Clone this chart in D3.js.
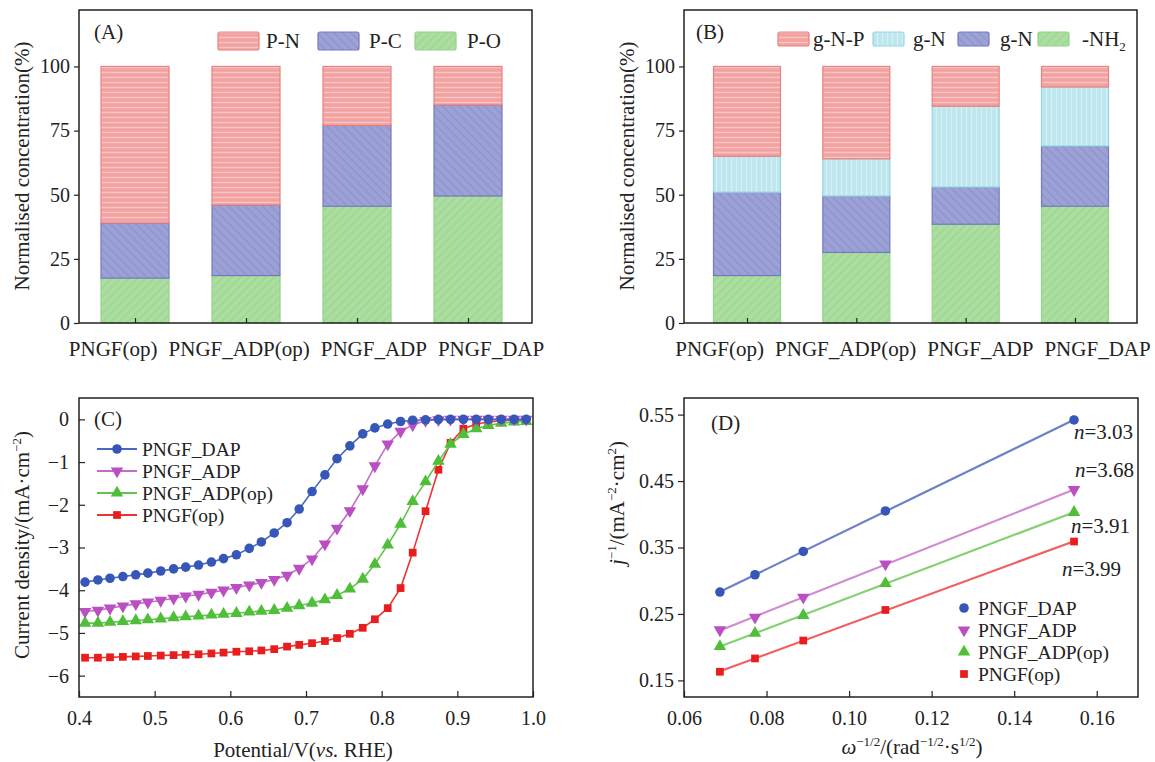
<!DOCTYPE html>
<html>
<head>
<meta charset="utf-8">
<title>PNGF species and ORR</title>
<script src="https://d3js.org/d3.v7.min.js"></script>
<style>
  body { margin: 0; background: #fff; }
  svg { font-family: "Liberation Serif", "Times New Roman", serif; fill: #222; }
  .axis text { font-size: 20px; fill: #222; font-family: "Liberation Serif", serif; }
  .axis line { stroke: #222; stroke-width: 1.2px; }
  .frame { fill: none; stroke: #222; stroke-width: 1.5px; }
  .lbl { font-size: 21px; fill: #222; }
  .leg { font-size: 19.5px; fill: #222; }
</style>
</head>
<body>
<script>
var samples = ["PNGF(op)", "PNGF_ADP(op)", "PNGF_ADP", "PNGF_DAP"];

// (A) P species, %
var pO = [17.5, 18.5, 45.5, 49.5];
var pC = [21.5, 27.5, 31.5, 35.5];
var pN = [61, 54, 23, 15];

// (B) N species, %
var nh2 = [18.5, 27.5, 38.5, 45.5];
var gNblue = [32.5, 22, 14.5, 23.5];
var gNcyan = [14, 14.5, 31.5, 23];
var gNP = [35, 36, 15.5, 8];

// (C) LSV curves
var potential = [0.408, 0.425, 0.441, 0.458, 0.475, 0.491, 0.508, 0.525, 0.541, 0.558, 0.575, 0.591,
  0.608, 0.625, 0.641, 0.658, 0.675, 0.691, 0.708, 0.725, 0.741, 0.758, 0.775, 0.791,
  0.808, 0.825, 0.841, 0.858, 0.875, 0.891, 0.908, 0.925, 0.941, 0.958, 0.975, 0.991];
var jDAP = [-3.81, -3.76, -3.72, -3.68, -3.64, -3.60, -3.55, -3.50, -3.46, -3.41, -3.34, -3.26,
  -3.17, -3.02, -2.87, -2.66, -2.42, -2.10, -1.69, -1.30, -0.92, -0.62, -0.34, -0.20,
  -0.11, -0.05, -0.02, -0.01, 0, 0, 0, 0, 0, 0, 0, 0];
var jADP = [-4.50, -4.47, -4.42, -4.37, -4.32, -4.28, -4.24, -4.19, -4.14, -4.10, -4.05, -4.00,
  -3.94, -3.88, -3.82, -3.75, -3.65, -3.49, -3.27, -2.92, -2.55, -2.14, -1.63, -1.09,
  -0.58, -0.28, -0.13, -0.03, -0.01, 0, 0, 0, 0, 0, 0, 0];
var jADPop = [-4.77, -4.77, -4.75, -4.73, -4.71, -4.69, -4.67, -4.64, -4.62, -4.60, -4.58, -4.56,
  -4.54, -4.51, -4.49, -4.47, -4.42, -4.36, -4.30, -4.22, -4.12, -3.97, -3.74, -3.39,
  -2.94, -2.45, -1.92, -1.46, -0.98, -0.58, -0.35, -0.22, -0.14, -0.09, -0.06, -0.05];
var jOp = [-5.58, -5.58, -5.57, -5.56, -5.55, -5.54, -5.53, -5.52, -5.51, -5.50, -5.48, -5.46,
  -5.44, -5.43, -5.41, -5.38, -5.32, -5.28, -5.24, -5.19, -5.12, -5.02, -4.88, -4.68,
  -4.42, -3.95, -3.12, -2.15, -1.18, -0.55, -0.22, -0.11, -0.06, -0.03, -0.02, -0.01];

// (D) K-L plots
var omega = [0.0687, 0.0772, 0.0889, 0.1088, 0.1545];
var kDAP = [0.283, 0.309, 0.344, 0.405, 0.542];
var kADP = [0.226, 0.245, 0.275, 0.325, 0.437];
var kADPop = [0.201, 0.221, 0.248, 0.296, 0.403];
var kOp = [0.163, 0.183, 0.210, 0.256, 0.359];
var nLabels = ["3.03", "3.68", "3.91", "3.99"];

var seriesNames = ["PNGF_DAP", "PNGF_ADP", "PNGF_ADP(op)", "PNGF(op)"];
var lineColors = ["#4a67c2", "#c56ccb", "#62c44e", "#ec3434"];
var dotColors = ["#3656b8", "#b94fc0", "#4fbf3a", "#e81e1e"];
var klLine = ["#6d80c8", "#cf8bd2", "#84d071", "#f06060"];

var svg = d3.select("body").append("svg").attr("width", 1155).attr("height", 762);
var defs = svg.append("defs");

function hatch(id, bg, fg, angle, gap, lw) {
  var p = defs.append("pattern").attr("id", id)
      .attr("patternUnits", "userSpaceOnUse")
      .attr("width", gap).attr("height", gap)
      .attr("patternTransform", "rotate(" + angle + ")");
  p.append("rect").attr("width", gap).attr("height", gap).attr("fill", bg);
  p.append("line").attr("x1", 0).attr("x2", gap).attr("y1", gap / 2).attr("y2", gap / 2)
      .attr("stroke", fg).attr("stroke-width", lw);
}
hatch("red", "#f3a2a2", "#f8c4c4", 0, 5, 1.4);
hatch("blue", "#9da2d6", "#8a8fcb", 45, 6, 1.2);
hatch("green", "#abdea0", "#99d48c", -45, 6, 1.2);
hatch("cyan", "#bde6ee", "#d6f1f6", 90, 5, 1.4);

function rich(sel, parts) {
  var shift = 0;
  parts.forEach(function(p) {
    var t = sel.append("tspan").text(p.t);
    var target = p.sup ? -8 : (p.sub ? 5 : 0);
    if (target !== shift) { t.attr("dy", target - shift); shift = target; }
    if (p.sup || p.sub) t.style("font-size", "13px");
    if (p.it) t.style("font-style", "italic");
  });
}

function clean(ax) { ax.select(".domain").remove(); }

// category labels sit side by side with a fixed gap, not centred on the ticks
function spreadLabels(axisG, x, centre, gap) {
  var texts = axisG.selectAll(".tick text");
  var widths = texts.nodes().map(function(n) { return n.getComputedTextLength(); });
  var total = d3.sum(widths) + gap * (widths.length - 1);
  var cursor = centre - total / 2;
  texts.each(function(d, i) {
    var mid = cursor + widths[i] / 2;
    d3.select(this).attr("x", mid - x(d));
    cursor += widths[i] + gap;
  });
}

////////////////////////////////////////////////////////////
// bar panels (A) and (B)
function barPanel(left, keys, cols, fills, strokes, centers, barW, tag, labelShift, legend) {
  var w = 453, h = 313;
  var g = svg.append("g").attr("transform", "translate(" + left + ",10)");
  var x = d3.scalePoint().domain(samples).range(centers);
  var y = d3.scaleLinear().domain([0, 122]).range([h, 0]);

  var table = samples.map(function(s, i) {
    var row = { sample: s };
    keys.forEach(function(k, j) { row[k] = cols[j][i]; });
    return row;
  });
  var layers = d3.stack().keys(keys)(table);

  g.selectAll("g.layer").data(layers).join("g")
      .attr("class", "layer")
      .attr("fill", function(d, i) { return "url(#" + fills[i] + ")"; })
      .attr("stroke", function(d, i) { return strokes[i]; })
      .attr("stroke-width", 1.2)
    .selectAll("rect").data(function(d) { return d; }).join("rect")
      .attr("x", function(d) { return x(d.data.sample) - barW / 2; })
      .attr("y", function(d) { return y(d[1]); })
      .attr("width", barW)
      .attr("height", function(d) { return y(d[0]) - y(d[1]); });

  g.append("g").attr("class", "axis")
      .call(d3.axisLeft(y).tickValues([0, 25, 50, 75, 100]).tickSize(5).tickPadding(4))
      .call(clean);
  var xa = g.append("g").attr("class", "axis").attr("transform", "translate(0," + h + ")")
      .call(d3.axisBottom(x).tickSize(-5).tickPadding(18))
      .call(clean);
  xa.selectAll("text").style("font-size", "21px");
  spreadLabels(xa, x, w / 2 + labelShift, 11);
  g.append("rect").attr("class", "frame").attr("width", w).attr("height", h);

  svg.append("text").attr("class", "lbl")
      .attr("transform", "translate(" + (left - 57) + ",166) rotate(-90)")
      .attr("text-anchor", "middle").attr("dy", "0.35em")
      .text("Normalised concentration(%)");
  svg.append("text").attr("class", "lbl").attr("x", left + tag[0]).attr("y", 39).text(tag[1]);

  legend.forEach(function(L) {
    svg.append("rect").attr("x", L.bx).attr("y", L.by).attr("width", L.bw).attr("height", L.bh)
        .attr("rx", 2).attr("fill", "url(#" + fills[L.k] + ")")
        .attr("stroke", strokes[L.k]).attr("stroke-width", 1.2);
    var t = svg.append("text").attr("class", "lbl").attr("x", L.tx).attr("y", L.ty);
    rich(t, L.text);
  });
}

barPanel(79, ["pO", "pC", "pN"], [pO, pC, pN],
  ["green", "blue", "red"], ["#93d486", "#7479c4", "#ea8080"],
  [56, 389], 68, [15, "(A)"], 0.5,
  [
    { k: 2, bx: 218, by: 32, bw: 41, bh: 18, tx: 266, ty: 48, text: [{ t: "P-N" }] },
    { k: 1, bx: 318, by: 32, bw: 41, bh: 18, tx: 369, ty: 48, text: [{ t: "P-C" }] },
    { k: 0, bx: 415, by: 32, bw: 41, bh: 18, tx: 467, ty: 48, text: [{ t: "P-O" }] }
  ]);

barPanel(684, ["nh2", "gNblue", "gNcyan", "gNP"], [nh2, gNblue, gNcyan, gNP],
  ["green", "blue", "cyan", "red"], ["#93d486", "#7479c4", "#98d6e4", "#ea8080"],
  [63, 391], 67, [12, "(B)"], 2,
  [
    { k: 3, bx: 778, by: 32, bw: 31, bh: 14, tx: 813, ty: 46, text: [{ t: "g-N-P" }] },
    { k: 2, bx: 873, by: 32, bw: 31, bh: 14, tx: 913, ty: 46, text: [{ t: "g-N" }] },
    { k: 1, bx: 958, by: 32, bw: 31, bh: 14, tx: 1000, ty: 46, text: [{ t: "g-N" }] },
    { k: 0, bx: 1038, by: 32, bw: 31, bh: 14, tx: 1082, ty: 46, text: [{ t: "-NH" }, { t: "2", sub: true }] }
  ]);

////////////////////////////////////////////////////////////
// (C) polarisation curves
var symbols = [
  { type: d3.symbolCircle, size: 72, rot: 0 },
  { type: d3.symbolTriangle, size: 68, rot: 180 },
  { type: d3.symbolTriangle, size: 68, rot: 0 },
  { type: d3.symbolSquare, size: 60, rot: 0 }
];

(function() {
  var w = 454, h = 299;
  var g = svg.append("g").attr("transform", "translate(79,398)");
  var x = d3.scaleLinear().domain([0.4, 1.0]).range([0, w]);
  var y = d3.scaleLinear().domain([-6.5, 0.5]).range([h, 0]);
  var curves = [jDAP, jADP, jADPop, jOp];

  g.append("g").attr("class", "axis")
      .call(d3.axisLeft(y).tickValues([-6, -5, -4, -3, -2, -1, 0]).tickFormat(d3.format("d"))
        .tickSize(-6).tickPadding(10))
      .call(clean);
  g.append("g").attr("class", "axis").attr("transform", "translate(0," + h + ")")
      .call(d3.axisBottom(x).tickValues([0.4, 0.5, 0.6, 0.7, 0.8, 0.9, 1.0]).tickFormat(d3.format(".1f"))
        .tickSize(-6).tickPadding(14))
      .call(clean);

  var line = d3.line()
      .x(function(d) { return x(d[0]); })
      .y(function(d) { return y(d[1]); });

  // red first so blue ends up on top
  [3, 2, 1, 0].forEach(function(i) {
    var pts = potential.map(function(p, k) { return [p, curves[i][k]]; });
    g.append("path").datum(pts).attr("d", line)
        .attr("fill", "none").attr("stroke", lineColors[i]).attr("stroke-width", 1.6);
    var sym = d3.symbol().type(symbols[i].type).size(symbols[i].size);
    g.append("g").selectAll("path").data(pts).join("path")
        .attr("d", sym)
        .attr("transform", function(d) {
          return "translate(" + x(d[0]) + "," + y(d[1]) + ") rotate(" + symbols[i].rot + ")";
        })
        .attr("fill", dotColors[i]);
  });

  g.append("rect").attr("class", "frame").attr("width", w).attr("height", h);

  // legend
  var ly = [449, 471, 493, 515];
  seriesNames.forEach(function(name, i) {
    svg.append("line").attr("x1", 97).attr("x2", 137).attr("y1", ly[i]).attr("y2", ly[i])
        .attr("stroke", lineColors[i]).attr("stroke-width", 1.8);
    svg.append("path").attr("d", d3.symbol().type(symbols[i].type).size(symbols[i].size)())
        .attr("transform", "translate(117," + ly[i] + ") rotate(" + symbols[i].rot + ")")
        .attr("fill", dotColors[i]);
    svg.append("text").attr("class", "leg").attr("x", 142).attr("y", ly[i]).attr("dy", "0.35em").text(name);
  });

  svg.append("text").attr("class", "lbl").attr("x", 94).attr("y", 426).text("(C)");

  var yt = svg.append("text").attr("class", "lbl")
      .attr("transform", "translate(22,545) rotate(-90)")
      .attr("text-anchor", "middle").attr("dy", "0.35em");
  rich(yt, [{ t: "Current density/(mA·cm" }, { t: "−2", sup: true }, { t: ")" }]);

  var xt = svg.append("text").attr("class", "lbl")
      .attr("x", 303).attr("y", 757).attr("text-anchor", "middle");
  rich(xt, [{ t: "Potential/V(" }, { t: "vs.", it: true }, { t: " RHE)" }]);
})();

////////////////////////////////////////////////////////////
// (D) Koutecky-Levich plots
(function() {
  var w = 454, h = 299;
  var g = svg.append("g").attr("transform", "translate(684,398)");
  var x = d3.scaleLinear().domain([0.06, 0.17]).range([0, w]);
  var y = d3.scaleLinear().domain([0.125, 0.575]).range([h, 0]);
  var sets = [kDAP, kADP, kADPop, kOp];

  g.append("g").attr("class", "axis")
      .call(d3.axisLeft(y).tickValues([0.15, 0.25, 0.35, 0.45, 0.55]).tickFormat(d3.format(".2f"))
        .tickSize(6).tickPadding(4))
      .call(clean);
  g.append("g").attr("class", "axis").attr("transform", "translate(0," + h + ")")
      .call(d3.axisBottom(x).tickValues([0.06, 0.08, 0.10, 0.12, 0.14, 0.16]).tickFormat(d3.format(".2f"))
        .tickSize(-6).tickPadding(14))
      .call(clean);

  sets.forEach(function(vals, i) {
    var mx = d3.mean(omega), my = d3.mean(vals);
    var sxy = d3.sum(omega, function(o, k) { return (o - mx) * (vals[k] - my); });
    var sxx = d3.sum(omega, function(o) { return (o - mx) * (o - mx); });
    var b = sxy / sxx, a = my - b * mx;
    var x0 = omega[0], x1 = omega[omega.length - 1];
    g.append("line")
        .attr("x1", x(x0)).attr("y1", y(a + b * x0))
        .attr("x2", x(x1)).attr("y2", y(a + b * x1))
        .attr("stroke", klLine[i]).attr("stroke-width", 2.2);
    var sym = d3.symbol().type(symbols[i].type).size(symbols[i].size);
    g.append("g").selectAll("path").data(vals).join("path")
        .attr("d", sym)
        .attr("transform", function(v, k) {
          return "translate(" + x(omega[k]) + "," + y(v) + ") rotate(" + symbols[i].rot + ")";
        })
        .attr("fill", dotColors[i]);
  });

  g.append("rect").attr("class", "frame").attr("width", w).attr("height", h);

  var nPos = [[1074, 432], [1075, 470], [1071, 526], [1062, 569]];
  nLabels.forEach(function(n, i) {
    var t = svg.append("text").attr("class", "lbl")
        .attr("x", nPos[i][0]).attr("y", nPos[i][1]).attr("dy", "0.35em");
    rich(t, [{ t: "n", it: true }, { t: "=" + n }]);
  });

  var ly = [608, 630, 652, 674];
  seriesNames.forEach(function(name, i) {
    svg.append("path").attr("d", d3.symbol().type(symbols[i].type).size(symbols[i].size)())
        .attr("transform", "translate(964," + ly[i] + ") rotate(" + symbols[i].rot + ")")
        .attr("fill", dotColors[i]);
    svg.append("text").attr("class", "leg").attr("x", 978).attr("y", ly[i]).attr("dy", "0.35em").text(name);
  });

  svg.append("text").attr("class", "lbl").attr("x", 711).attr("y", 430).text("(D)");

  var yt = svg.append("text").attr("class", "lbl")
      .attr("transform", "translate(617,503) rotate(-90)")
      .attr("text-anchor", "middle").attr("dy", "0.35em");
  rich(yt, [{ t: "j", it: true }, { t: "−1", sup: true }, { t: "/(mA" }, { t: "−2", sup: true },
            { t: "·cm" }, { t: "2", sup: true }, { t: ")" }]);

  var xt = svg.append("text").attr("class", "lbl")
      .attr("x", 912).attr("y", 754).attr("text-anchor", "middle");
  rich(xt, [{ t: "ω", it: true }, { t: "−1/2", sup: true }, { t: "/(rad" }, { t: "−1/2", sup: true },
            { t: "·s" }, { t: "1/2", sup: true }, { t: ")" }]);
})();
</script>
</body>
</html>
